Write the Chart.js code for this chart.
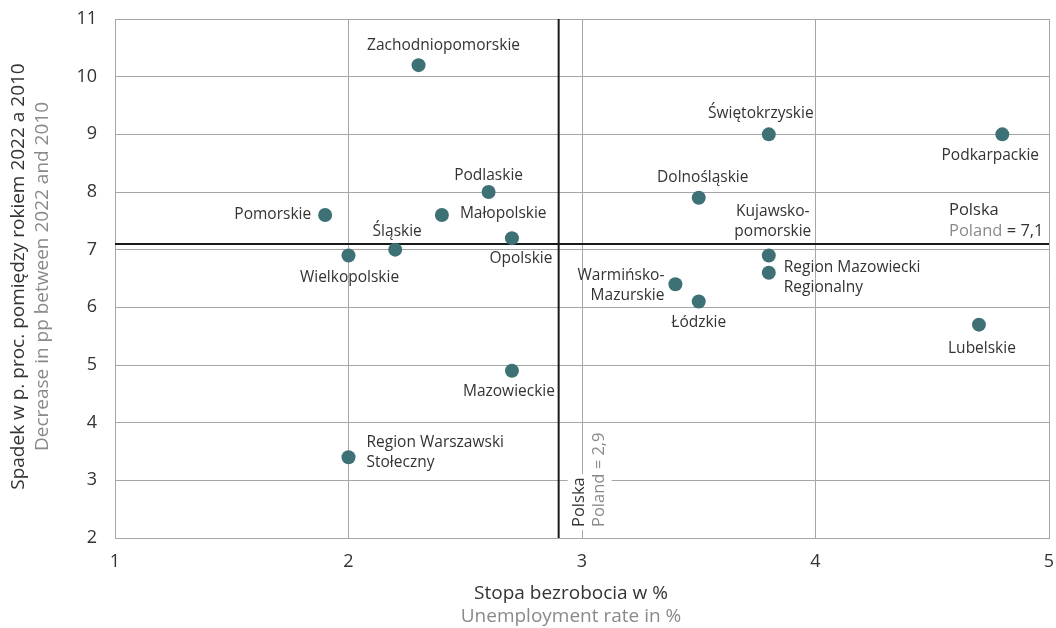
<!DOCTYPE html>
<html><head><meta charset="utf-8">
<script src="https://cdn.jsdelivr.net/npm/chart.js@4/dist/chart.umd.min.js"></script>
<style>html,body{margin:0;padding:0;background:#fff}#wrap{width:1056px;height:628px}</style>
</head><body><div id="wrap"><canvas id="c" width="1056" height="628"></canvas></div>
<script>
// ---- data ----
const regions = ["Zachodniopomorskie","Świętokrzyskie","Podkarpackie","Podlaskie","Dolnośląskie","Pomorskie","Małopolskie","Opolskie","Śląskie","Wielkopolskie","Kujawsko-\npomorskie","Region Mazowiecki\nRegionalny","Warmińsko-\nMazurskie","Łódzkie","Lubelskie","Mazowieckie","Region Warszawski\nStołeczny"];
const unemployment = [2.3,3.8,4.8,2.6,3.5,1.9,2.4,2.7,2.2,2.0,3.8,3.8,3.4,3.5,4.7,2.7,2.0];
const decrease = [10.2,9.0,9.0,8.0,7.9,7.6,7.6,7.2,7.0,6.9,6.9,6.6,6.4,6.1,5.7,4.9,3.4];
const POLAND_UNEMPLOYMENT = 2.9;
const POLAND_DECREASE = 7.1;
const xTicks = [1,2,3,4,5];
const yTicks = [2,3,4,5,6,7,8,9,10,11];

// ---- label placement (style, not data) ----
const labelPlace = [
  {dx:25,dy:-20,a:'center'},{dx:-8,dy:-21,a:'center'},{dx:-12,dy:21,a:'center'},
  {dx:0,dy:-16,a:'center'},{dx:4,dy:-20,a:'center'},{dx:-14,dy:0,a:'right'},
  {dx:18,dy:-1,a:'left'},{dx:9,dy:20,a:'center'},{dx:2,dy:-18,a:'center'},
  {dx:1,dy:22,a:'center'},{dx:4,dy:-44,a:'center'},{dx:15,dy:-5,a:'left'},
  {dx:-11,dy:-9,a:'right'},{dx:0,dy:21,a:'center'},{dx:3,dy:24,a:'center'},
  {dx:-3,dy:21,a:'center'},{dx:18,dy:-15,a:'left'}
];
const FONT = '"Open Sans", "Noto Sans", sans-serif';
const DARK = '#333333', GREY = '#8a8a8a';

const points = unemployment.map((x,i)=>({x:x,y:decrease[i]}));

const overlay = {
  id:'overlay',
  beforeDatasetsDraw(chart){
    const {ctx, chartArea:ca, scales:{x,y}} = chart;
    const px = x.getPixelForValue(POLAND_UNEMPLOYMENT);
    const py = y.getPixelForValue(POLAND_DECREASE);
    ctx.save();
    ctx.font = '16.5px '+FONT;
    ctx.textBaseline='middle';
    const vl = [{t:'Polska',c:DARK,dx:21},{t:'Poland = 2,9',c:GREY,dx:41}];
    vl.forEach(l=>{
      const w = ctx.measureText(l.t).width;
      ctx.save();
      ctx.translate(px+l.dx, ca.bottom-11);
      ctx.rotate(-Math.PI/2);
      ctx.fillStyle='#fff';
      ctx.fillRect(-3,-12,w+6,24);
      ctx.fillStyle=l.c; ctx.textAlign='left';
      ctx.fillText(l.t,0,0);
      ctx.restore();
    });
    ctx.strokeStyle='#1a1a1a'; ctx.lineWidth=2;
    ctx.beginPath(); ctx.moveTo(px,ca.top); ctx.lineTo(px,ca.bottom); ctx.stroke();
    ctx.beginPath(); ctx.moveTo(ca.left,py); ctx.lineTo(ca.right,py); ctx.stroke();
    ctx.textAlign='left';
    const hx = ca.right-100;
    ctx.fillStyle=DARK; ctx.fillText('Polska',hx,py-34);
    ctx.fillStyle=GREY; ctx.fillText('Poland ',hx,py-13);
    const w1 = ctx.measureText('Poland ').width;
    ctx.fillStyle=DARK; ctx.fillText('= 7,1',hx+w1,py-13);
    ctx.restore();
  },
  afterDatasetsDraw(chart){
    const {ctx, chartArea:ca} = chart;
    const meta = chart.getDatasetMeta(0);
    ctx.save();
    ctx.font='15.5px '+FONT; ctx.fillStyle=DARK; ctx.textBaseline='middle';
    meta.data.forEach((pt,i)=>{
      const p = labelPlace[i];
      ctx.textAlign = p.a;
      regions[i].split('\n').forEach((line,k)=>{
        ctx.fillText(line, pt.x+p.dx, pt.y+p.dy+k*20);
      });
    });
    const cx = 571;
    ctx.textAlign='center';
    ctx.font='19px '+FONT;
    ctx.fillStyle=DARK; ctx.fillText('Stopa bezrobocia w %', cx, 594);
    ctx.fillStyle=GREY; ctx.fillText('Unemployment rate in %', cx, 617);
    const cy = (ca.top+ca.bottom)/2 - 2;
    ctx.save(); ctx.translate(19,cy); ctx.rotate(-Math.PI/2);
    ctx.fillStyle=DARK; ctx.fillText('Spadek w p. proc. pomiędzy rokiem 2022 a 2010',0,0);
    ctx.restore();
    ctx.save(); ctx.translate(43,cy); ctx.rotate(-Math.PI/2);
    ctx.fillStyle=GREY; ctx.fillText('Decrease in pp between 2022 and 2010',0,0);
    ctx.restore();
    ctx.restore();
  }
};

new Chart(document.getElementById('c'), {
  type:'scatter',
  data:{datasets:[{data:points, backgroundColor:'#3d7176', borderWidth:0, pointRadius:7, pointHoverRadius:7}]},
  options:{
    responsive:false, animation:false,
    layout:{padding:{top:19,right:5,left:0,bottom:0}},
    plugins:{legend:{display:false},tooltip:{enabled:false}},
    scales:{
      x:{min:1,max:5,
        afterBuildTicks(s){s.ticks=xTicks.map(v=>({value:v}));},
        afterFit(s){s.height=90; s.paddingLeft=0; s.paddingRight=0;},
        grid:{color:'#a6a6a6',lineWidth:1,drawTicks:false},
        border:{color:'#a6a6a6'},
        ticks:{padding:13,color:DARK,font:{family:FONT,size:18},callback:v=>String(v)}
      },
      y:{min:2,max:11,
        afterBuildTicks(s){s.ticks=yTicks.map(v=>({value:v}));},
        afterFit(s){s.width=115; s.paddingTop=0; s.paddingBottom=0;},
        grid:{color:'#a6a6a6',lineWidth:1,drawTicks:false},
        border:{color:'#a6a6a6'},
        ticks:{padding:18,color:DARK,font:{family:FONT,size:18},callback:v=>String(v)}
      }
    }
  },
  plugins:[overlay]
});
</script></body></html>
